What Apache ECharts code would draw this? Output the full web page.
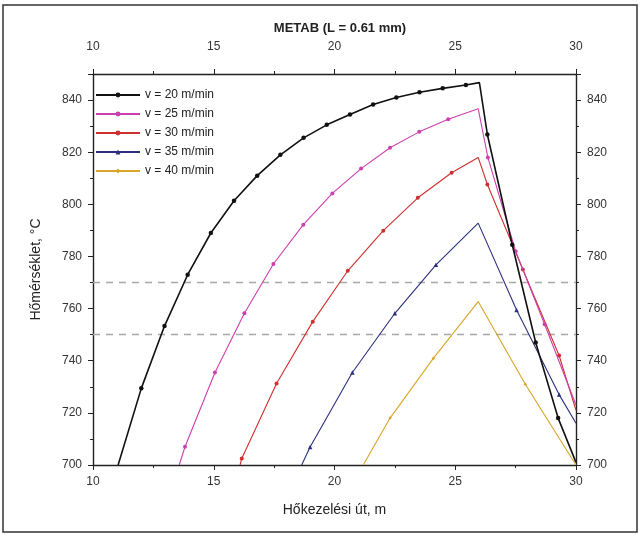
<!DOCTYPE html>
<html><head><meta charset="utf-8">
<script src="https://cdn.jsdelivr.net/npm/echarts@6/dist/echarts.min.js"></script>
<style>html,body{margin:0;padding:0;background:#fff}#c{width:642px;height:535px}</style>
</head><body><div id="c"></div>
<script>
// ---- data ----
const seriesNames = ['v = 20 m/min','v = 25 m/min','v = 30 m/min','v = 35 m/min','v = 40 m/min'];
const v20_x = [11.04,12.0,12.96,13.92,14.88,15.84,16.8,17.76,18.72,19.68,20.64,21.6,22.56,23.52,24.48,25.44,26.0,26.33,27.36,28.33,29.26,30.0];
const v20_y = [700,729.4,753.3,773,789,801.4,811,819,825.5,830.5,834.5,838.3,841,843,844.5,845.8,846.7,826.8,784.5,747,718,701];
const v25_x = [13.57,13.81,15.05,16.27,17.47,18.71,19.91,21.1,22.3,23.51,24.71,25.95,26.35,27.5,28.7,30.0];
const v25_y = [700,707,735.5,758.2,777.1,792.2,804.2,813.7,821.7,827.8,832.6,836.7,818,782,754,723];
const v30_x = [16.09,16.16,17.6,19.1,20.55,22.02,23.45,24.85,25.95,26.33,27.8,29.3,30.0];
const v30_y = [700,702.5,731.3,755,774.5,789.9,802.5,812.1,818,807.6,775,742,721];
const v35_x = [18.64,18.99,20.74,22.5,24.2,25.95,27.54,29.3,30.0];
const v35_y = [700,706.9,735.5,758.2,776.8,792.8,759.5,727,716];
const v40_x = [21.19,22.3,24.1,25.95,27.9,30.0];
const v40_y = [700,718,741,762.7,731,700];
const refLines = [770, 750];
const xTicks = [10,15,20,25,30];
const yTicks = [700,720,740,760,780,800,820,840];

// ---- styles ----
const colors = ['#111111','#cc3fae','#cf2f2f','#2c2f7e','#d9a52a'];
const symbols = ['circle','circle','circle','triangle','diamond'];
const symSizes = [4.5,4,4,4.5,3.5];
const widths = [1.6,1.1,1.1,1.1,1.1];
const xs = [v20_x,v25_x,v30_x,v35_x,v40_x];
const ys = [v20_y,v25_y,v30_y,v35_y,v40_y];
const FONT = 'Liberation Sans, Arial, sans-serif';

const series = xs.map((xa,i)=>{
  const ya = ys[i];
  let pk = 0; ya.forEach((v,j)=>{ if(v>ya[pk]) pk=j; });
  const data = xa.map((x,j)=>{
    const item = {value:[x, ya[j]]};
    if (j===0 || j===xa.length-1 || j===pk) item.symbol='none';
    return item;
  });
  const s = {
    name: seriesNames[i], type:'line', data, smooth:false,
    symbol: symbols[i], symbolSize: symSizes[i], showSymbol:true,
    lineStyle:{color:colors[i], width:widths[i]},
    itemStyle:{color:colors[i]}, z: 10-i, animation:false
  };
  if (i===0) {
    s.markLine = {silent:true, symbol:'none', label:{show:false},
      lineStyle:{color:'#a8a8a8', type:[7,6], width:1.4},
      data: refLines.map(v=>({yAxis:v}))};
  }
  return s;
});

const axisCommon = {
  type:'value', min:10, max:30, interval:5,
  axisLine:{show:true, onZero:false, lineStyle:{color:'#222', width:1.4}},
  axisTick:{show:true, length:5, lineStyle:{color:'#222', width:1}},
  minorTick:{show:true, splitNumber:2, length:3, lineStyle:{color:'#222'}},
  splitLine:{show:false},
  axisLabel:{color:'#333', fontSize:12, fontFamily:FONT,
    formatter:v=> xTicks.includes(v)? String(v):''}
};
const yCommon = {
  type:'value', min:700, max:850, interval:20,
  axisLine:{show:true, onZero:false, lineStyle:{color:'#222', width:1.4}},
  axisTick:{show:true, length:5, lineStyle:{color:'#222', width:1}},
  minorTick:{show:true, splitNumber:2, length:3, lineStyle:{color:'#222'}},
  splitLine:{show:false},
  axisLabel:{color:'#333', fontSize:12, fontFamily:FONT, showMaxLabel:false,
    formatter:v=> yTicks.includes(v)? String(v):''}
};

const chart = echarts.init(document.getElementById('c'), null, {renderer:'canvas'});
chart.setOption({
  backgroundColor:'#fff',
  animation:false,
  title:{text:'METAB (L = 0.61 mm)', left:335, top:17, textAlign:'center',
    textStyle:{fontSize:13, fontWeight:'bold', color:'#222', fontFamily:FONT}},
  grid:{left:93, right:66, top:74, bottom:70},
  legend:{orient:'vertical', left:95, top:88, itemGap:5, itemWidth:44, itemHeight:6,
    padding:0, textStyle:{fontSize:12, color:'#222', fontFamily:FONT, lineHeight:14}, data:seriesNames},
  xAxis:[
    Object.assign({}, axisCommon, {position:'bottom', name:'Hőkezelési út, m', nameLocation:'middle', nameGap:38,
      nameTextStyle:{fontSize:14, color:'#222', fontFamily:FONT},
      axisLabel:Object.assign({}, axisCommon.axisLabel, {margin:11})}),
    Object.assign({}, axisCommon, {position:'top',
      axisLabel:Object.assign({}, axisCommon.axisLabel, {margin:21})})
  ],
  yAxis:[
    Object.assign({}, yCommon, {position:'left', name:'Hőmérséklet, °C', nameLocation:'middle', nameGap:50,
      nameTextStyle:{fontSize:14, color:'#222', fontFamily:FONT},
      axisLabel:Object.assign({}, yCommon.axisLabel, {margin:11})}),
    Object.assign({}, yCommon, {position:'right',
      axisLabel:Object.assign({}, yCommon.axisLabel, {margin:11})})
  ],
  graphic:[{type:'rect', shape:{x:3, y:5, width:634, height:527},
    style:{fill:'none', stroke:'#333', lineWidth:1.5}, silent:true, z:-1}],
  series
});
</script></body></html>
